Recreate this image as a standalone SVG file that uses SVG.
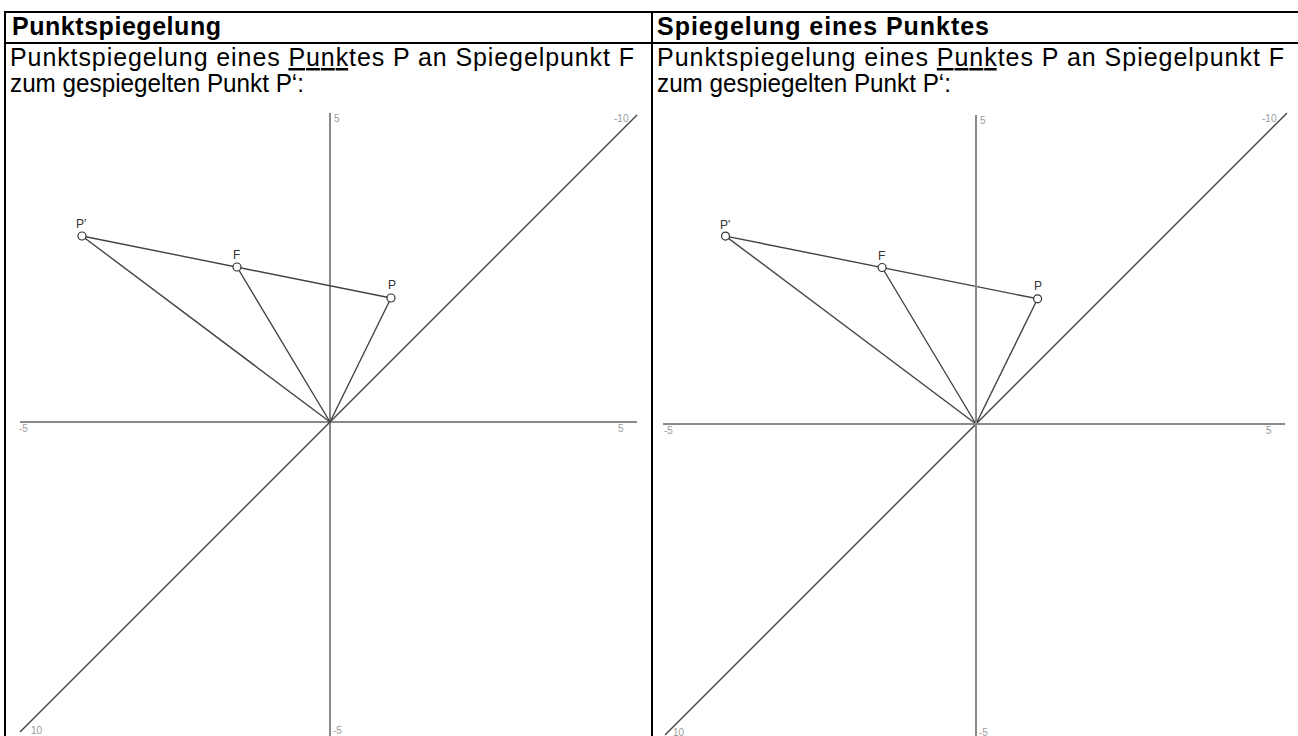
<svg xmlns="http://www.w3.org/2000/svg" width="1298" height="736" viewBox="0 0 1298 736">
<style>
.tb{stroke:#000;stroke-width:2;fill:none}
.hd{font-family:"Liberation Sans",Arial,sans-serif;font-weight:bold;font-size:25px;fill:#000}
.tx{font-family:"Liberation Sans",Arial,sans-serif;font-size:25px;fill:#000}
.ax{stroke:#8a8a8a;stroke-width:2;fill:none}
.sg{stroke:#444;stroke-width:1.4;fill:none}
.pt{fill:#fff;stroke:#333;stroke-width:1.2}
.al{font-family:"Liberation Sans",Arial,sans-serif;font-size:10px;fill:#9a9a9a}
.pl{font-family:"Liberation Sans",Arial,sans-serif;font-size:12px;fill:#333}
.ul{text-decoration:underline}
</style>
<rect width="1298" height="736" fill="#fff"/>
<g id="table">
<line class="tb" x1="4" y1="12" x2="1298" y2="12"/>
<line class="tb" x1="4" y1="43" x2="1298" y2="43"/>
<line class="tb" x1="5" y1="11" x2="5" y2="736"/>
<line class="tb" x1="652" y1="11" x2="652" y2="736"/>
</g>
<g id="texts">
<text class="hd" x="12" y="35" textLength="209" lengthAdjust="spacing">Punktspiegelung</text>
<text class="hd" x="657" y="35" textLength="332" lengthAdjust="spacing">Spiegelung eines Punktes</text>
<text class="tx" x="10" y="66" textLength="624" lengthAdjust="spacing">Punktspiegelung eines <tspan class="ul">Punk</tspan>tes P an Spiegelpunkt F</text>
<text class="tx" x="10" y="92" textLength="294" lengthAdjust="spacingAndGlyphs">zum gespiegelten Punkt P‘:</text>
<text class="tx" x="657" y="66" textLength="627" lengthAdjust="spacing">Punktspiegelung eines <tspan class="ul">Punk</tspan>tes P an Spiegelpunkt F</text>
<text class="tx" x="657" y="92" textLength="294" lengthAdjust="spacingAndGlyphs">zum gespiegelten Punkt P‘:</text>
</g>
<g id="left-axes">
<line class="ax" x1="20" y1="422" x2="637" y2="422"/>
<line class="ax" x1="330" y1="113" x2="330" y2="736"/>
<text class="al" x="19" y="432">-5</text>
<text class="al" x="618" y="432">5</text>
<text class="al" x="334" y="122">5</text>
<text class="al" x="333" y="734">-5</text>
<text class="al" x="614" y="122">-10</text>
<text class="al" x="31" y="734">10</text>
</g>
<g id="connectors">
<line class="sg" x1="20" y1="732" x2="637" y2="115"/>
<line class="sg" x1="82" y1="236" x2="391" y2="298"/>
<line class="sg" x1="82" y1="236" x2="330" y2="422"/>
<line class="sg" x1="237" y1="267" x2="330" y2="422"/>
<line class="sg" x1="391" y1="298" x2="330" y2="422"/>
<line class="sg" x1="665" y1="735" x2="1287" y2="113"/>
<line class="sg" x1="725.5" y1="236.1" x2="1037.6" y2="298.8"/>
<line class="sg" x1="725.5" y1="236.1" x2="976" y2="424"/>
<line class="sg" x1="882.1" y1="267.5" x2="976" y2="424"/>
<line class="sg" x1="1037.6" y1="298.8" x2="976" y2="424"/>
</g>
<g id="left-Pprime"><circle class="pt" cx="82" cy="236" r="4"/><text class="pl" x="76" y="228">P'</text></g>
<g id="left-F"><circle class="pt" cx="237" cy="267" r="4"/><text class="pl" x="233" y="259">F</text></g>
<g id="left-P"><circle class="pt" cx="391" cy="298" r="4"/><text class="pl" x="388" y="289">P</text></g>
<g id="right-axes">
<line class="ax" x1="663" y1="424" x2="1285" y2="424"/>
<line class="ax" x1="976" y1="115" x2="976" y2="736"/>
<text class="al" x="664" y="434">-5</text>
<text class="al" x="1266" y="434">5</text>
<text class="al" x="980" y="124">5</text>
<text class="al" x="979" y="736">-5</text>
<text class="al" x="1262" y="122">-10</text>
<text class="al" x="673" y="736">10</text>
</g>
<g id="right-Pprime"><circle class="pt" cx="725.5" cy="236.1" r="4"/><text class="pl" x="720" y="229">P'</text></g>
<g id="right-F"><circle class="pt" cx="882.1" cy="267.5" r="4"/><text class="pl" x="878" y="260">F</text></g>
<g id="right-P"><circle class="pt" cx="1037.6" cy="298.8" r="4"/><text class="pl" x="1034" y="290">P</text></g>
</svg>
